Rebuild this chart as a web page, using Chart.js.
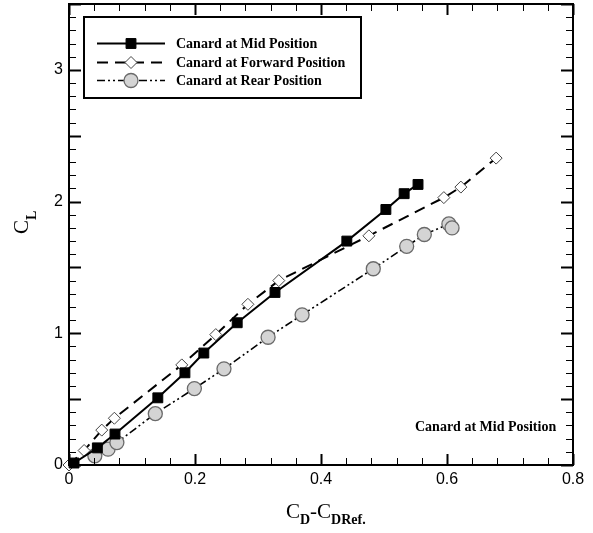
<!DOCTYPE html>
<html>
<head>
<meta charset="utf-8">
<script src="https://cdn.jsdelivr.net/npm/chart.js@4.4.0/dist/chart.umd.min.js"></script>
<style>
  html, body { margin: 0; padding: 0; background: #fff; }
  #chart { display: block; }
</style>
</head>
<body>
<canvas id="chart" width="593" height="533"></canvas>
<script>
// --- data ---
const xTickValues = [0, 0.2, 0.4, 0.6, 0.8];
const yTickValues = [0, 1, 2, 3];

const midCd = [0.008, 0.045, 0.073, 0.141, 0.184, 0.214, 0.267, 0.327, 0.441, 0.503, 0.532, 0.554];
const midCl = [0.015, 0.13, 0.235, 0.51, 0.70, 0.85, 1.08, 1.31, 1.70, 1.94, 2.06, 2.13];

const fwdCd = [0.0, 0.024, 0.052, 0.072, 0.179, 0.233, 0.284, 0.333, 0.476, 0.595, 0.622, 0.678];
const fwdCl = [0.0, 0.11, 0.265, 0.355, 0.76, 0.99, 1.22, 1.40, 1.74, 2.03, 2.11, 2.33];

const rearCd = [0.041, 0.062, 0.076, 0.137, 0.199, 0.246, 0.316, 0.37, 0.483, 0.536, 0.564, 0.603, 0.608];
const rearCl = [0.07, 0.12, 0.17, 0.39, 0.58, 0.73, 0.97, 1.14, 1.49, 1.66, 1.75, 1.83, 1.80];

const seriesLabels = ['Canard at Mid Position', 'Canard at Forward Position', 'Canard at Rear Position'];
const noteText = 'Canard at Mid Position';

const toPoints = (xs, ys) => xs.map((x, i) => ({ x: x, y: ys[i] }));

const serifBold = 'bold 14px "Liberation Serif", "DejaVu Serif", serif';

const styles = [
    { borderColor: '#000', borderWidth: 2, borderDash: [], pointStyle: 'rect', pointRadius: 7,
      pointBackgroundColor: '#000', pointBorderColor: '#000', pointBorderWidth: 1 },
    { borderColor: '#000', borderWidth: 2, borderDash: [11, 7], pointStyle: 'rectRot', pointRadius: 6,
      pointBackgroundColor: '#fff', pointBorderColor: '#444', pointBorderWidth: 1 },
    { borderColor: '#000', borderWidth: 1.6, borderDash: [8, 3, 2, 3, 2, 3], pointStyle: 'circle', pointRadius: 7,
      pointBackgroundColor: '#d4d4d4', pointBorderColor: '#6a6a6a', pointBorderWidth: 1.3 }
];

// draws text where some pieces are subscripts
function drawSubText(ctx, parts, x, y) {
    let cx = x;
    parts.forEach(p => {
        ctx.font = p.font;
        ctx.fillText(p.t, cx, y + (p.dy || 0));
        cx += ctx.measureText(p.t).width;
    });
}

function drawMarker(ctx, s, x, y) {
    ctx.save();
    ctx.fillStyle = s.pointBackgroundColor;
    ctx.strokeStyle = s.pointBorderColor;
    ctx.lineWidth = s.pointBorderWidth;
    Chart.helpers.drawPoint(ctx, { pointStyle: s.pointStyle, radius: s.pointRadius, borderWidth: s.pointBorderWidth }, x, y);
    ctx.restore();
}

// ticks inside the frame, frame, legend box, note and axis titles
const decorations = {
    id: 'decorations',
    afterDatasetsDraw(chart) {
        const ctx = chart.ctx;
        const a = chart.chartArea;
        const xs = chart.scales.x;
        const ys = chart.scales.y;
        ctx.save();
        ctx.strokeStyle = '#000';
        ctx.lineWidth = 1;
        // x ticks (bottom & top)
        for (let i = 0; i <= 20; i++) {
            const v = i * 0.04;
            const px = Math.round(xs.getPixelForValue(v)) + 0.5;
            const len = (i % 5 === 0) ? 11 : 7;
            ctx.lineWidth = (i % 5 === 0) ? 2 : 1;
            ctx.beginPath();
            ctx.moveTo(px, a.bottom); ctx.lineTo(px, a.bottom - len);
            ctx.moveTo(px, a.top); ctx.lineTo(px, a.top + len);
            ctx.stroke();
        }
        // y ticks (left & right)
        for (let i = 0; i <= 35; i++) {
            const v = i * 0.1;
            const py = Math.round(ys.getPixelForValue(v)) + 0.5;
            const len = (i % 5 === 0) ? 12 : 7;
            ctx.lineWidth = (i % 5 === 0) ? 2 : 1;
            ctx.beginPath();
            ctx.moveTo(a.left, py); ctx.lineTo(a.left + len, py);
            ctx.moveTo(a.right, py); ctx.lineTo(a.right - len, py);
            ctx.stroke();
        }
        // frame
        ctx.lineWidth = 2;
        ctx.strokeRect(a.left, a.top, a.right - a.left, a.bottom - a.top);

        // legend box
        ctx.fillStyle = '#fff';
        ctx.fillRect(84, 17, 277, 81);
        ctx.lineWidth = 2;
        ctx.strokeRect(84, 17, 277, 81);
        const rows = [43, 62, 80];
        styles.forEach((s, i) => {
            ctx.save();
            ctx.strokeStyle = s.borderColor;
            ctx.lineWidth = s.borderWidth;
            ctx.setLineDash(s.borderDash);
            ctx.beginPath();
            ctx.moveTo(97, rows[i] + 0.5); ctx.lineTo(165, rows[i] + 0.5);
            ctx.stroke();
            ctx.restore();
            drawMarker(ctx, s, 131, rows[i] + 0.5);
            ctx.fillStyle = '#000';
            ctx.font = serifBold;
            ctx.textBaseline = 'middle';
            ctx.textAlign = 'left';
            ctx.fillText(seriesLabels[i], 176, rows[i] + 1);
        });

        // note, lower right
        ctx.font = serifBold;
        ctx.textBaseline = 'middle';
        ctx.fillText(noteText, 415, 427);

        // axis titles
        ctx.textBaseline = 'alphabetic';
        const big = '21px "Liberation Serif", "DejaVu Serif", serif';
        const sub = 'bold 14px "Liberation Serif", "DejaVu Serif", serif';
        drawSubText(ctx, [
            { t: 'C', font: big },
            { t: 'D', font: sub, dy: 6 },
            { t: '-C', font: big },
            { t: 'DRef.', font: sub, dy: 6 }
        ], 286, 518);

        ctx.save();
        ctx.translate(28, 234);
        ctx.rotate(-Math.PI / 2);
        drawSubText(ctx, [
            { t: 'C', font: big },
            { t: 'L', font: sub, dy: 8 }
        ], 0, 0);
        ctx.restore();
        ctx.restore();
    }
};

const ctx = document.getElementById('chart').getContext('2d');

new Chart(ctx, {
    type: 'line',
    data: {
        datasets: [
            Object.assign({ label: seriesLabels[0], data: toPoints(midCd, midCl) }, styles[0]),
            Object.assign({ label: seriesLabels[1], data: toPoints(fwdCd, fwdCl) }, styles[1]),
            Object.assign({ label: seriesLabels[2], data: toPoints(rearCd, rearCl) }, styles[2])
        ].map(d => Object.assign(d, { fill: false, tension: 0, clip: false, showLine: true }))
    },
    options: {
        responsive: false,
        animation: false,
        layout: { autoPadding: false, padding: { left: 0, right: 20, top: 4, bottom: 0 } },
        plugins: {
            legend: { display: false },
            tooltip: { enabled: false }
        },
        scales: {
            x: {
                type: 'linear',
                min: 0,
                max: 0.8,
                grid: { display: false, drawTicks: false },
                border: { display: false },
                afterFit: scale => {
                    scale.height = 68;
                    scale.paddingLeft = 0;
                    scale.paddingRight = 0;
                },
                afterBuildTicks: scale => { scale.ticks = xTickValues.map(v => ({ value: v })); },
                ticks: {
                    padding: 5,
                    color: '#000',
                    maxRotation: 0,
                    font: { family: '"Liberation Sans", Arial, sans-serif', size: 16 },
                    callback: v => String(v)
                }
            },
            y: {
                type: 'linear',
                min: 0,
                max: 3.5,
                grid: { display: false, drawTicks: false },
                border: { display: false },
                afterFit: scale => {
                    scale.width = 69;
                    scale.paddingTop = 0;
                    scale.paddingBottom = 0;
                },
                afterBuildTicks: scale => { scale.ticks = yTickValues.map(v => ({ value: v })); },
                ticks: {
                    padding: 6,
                    color: '#000',
                    font: { family: '"Liberation Sans", Arial, sans-serif', size: 16 },
                    callback: v => String(v)
                }
            }
        }
    },
    plugins: [decorations]
});
</script>
</body>
</html>
